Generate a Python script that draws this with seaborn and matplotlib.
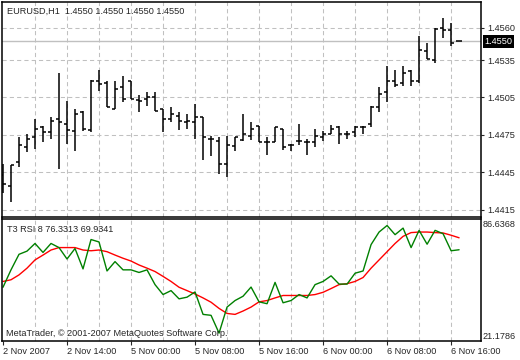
import numpy as np
import pandas as pd
import matplotlib
matplotlib.use("Agg")
import matplotlib.pyplot as plt
import matplotlib.transforms as mtransforms
import seaborn as sns

# EURUSD H1 bars (open / high / low / close)
bar_open = [1.4443, 1.4434, 1.4453, 1.4465, 1.4473, 1.4481, 1.4477, 1.4488, 1.4484, 1.4478,
            1.4493, 1.4479, 1.4518, 1.4517, 1.4496, 1.4513, 1.4518, 1.4503, 1.4504, 1.4505,
            1.4496, 1.4488, 1.4490, 1.4485, 1.4485, 1.4489, 1.4472, 1.4470, 1.4452, 1.4466,
            1.4471, 1.4474, 1.4482, 1.4469, 1.4469, 1.4480, 1.4467, 1.4470, 1.4469, 1.4469,
            1.4473, 1.4476, 1.4481, 1.4476, 1.4477, 1.4481, 1.4484, 1.4497, 1.4509, 1.4518,
            1.4517, 1.4526, 1.4518, 1.4542, 1.4535, 1.4561, 1.4559, 1.4550]
bar_high = [1.4452, 1.4451, 1.4473, 1.4476, 1.4488, 1.4482, 1.4489, 1.4525, 1.4502, 1.4496,
            1.4494, 1.4519, 1.4527, 1.4518, 1.4518, 1.4522, 1.4518, 1.4507, 1.4509, 1.4509,
            1.4496, 1.4497, 1.4493, 1.4492, 1.4500, 1.4489, 1.4474, 1.4473, 1.4474, 1.4473,
            1.4492, 1.4485, 1.4482, 1.4473, 1.4481, 1.4480, 1.4468, 1.4484, 1.4472, 1.4480,
            1.4478, 1.4483, 1.4482, 1.4478, 1.4482, 1.4482, 1.4498, 1.4513, 1.4530, 1.4527,
            1.4530, 1.4527, 1.4554, 1.4549, 1.4561, 1.4569, 1.4565, 1.4550]
bar_low = [1.4428, 1.4421, 1.4449, 1.4461, 1.4464, 1.4469, 1.4472, 1.4448, 1.4468, 1.4462,
           1.4478, 1.4477, 1.4510, 1.4497, 1.4496, 1.4501, 1.4504, 1.4493, 1.4498, 1.4494,
           1.4477, 1.4485, 1.4479, 1.4480, 1.4472, 1.4455, 1.4458, 1.4444, 1.4441, 1.4462,
           1.4470, 1.4471, 1.4469, 1.4459, 1.4469, 1.4463, 1.4462, 1.4467, 1.4459, 1.4465,
           1.4470, 1.4476, 1.4468, 1.4472, 1.4473, 1.4476, 1.4481, 1.4493, 1.4501, 1.4513,
           1.4514, 1.4514, 1.4517, 1.4536, 1.4533, 1.4553, 1.4546, 1.4550]
bar_close = [1.4436, 1.4451, 1.4467, 1.4472, 1.4480, 1.4477, 1.4486, 1.4485, 1.4479, 1.4492,
             1.4480, 1.4518, 1.4516, 1.4497, 1.4512, 1.4504, 1.4504, 1.4502, 1.4505, 1.4494,
             1.4488, 1.4492, 1.4486, 1.4486, 1.4489, 1.4473, 1.4472, 1.4452, 1.4467, 1.4473,
             1.4476, 1.4480, 1.4469, 1.4469, 1.4481, 1.4465, 1.4467, 1.4470, 1.4469, 1.4474,
             1.4476, 1.4480, 1.4476, 1.4476, 1.4481, 1.4481, 1.4497, 1.4508, 1.4518, 1.4515,
             1.4525, 1.4518, 1.4543, 1.4536, 1.4560, 1.4559, 1.4549, 1.4550]

# T3 RSI(8) window: green line and red signal
rsi_t3 = [49.9, 59.2, 67.5, 69.2, 73.3, 68.5, 73.3, 71.1, 65.0, 70.6,
          59.7, 75.4, 74.1, 58.6, 63.6, 59.2, 59.2, 57.8, 59.2, 51.3,
          46.0, 48.1, 43.7, 44.6, 47.4, 35.4, 34.9, 25.4, 39.3, 42.8,
          45.1, 50.0, 42.1, 41.1, 52.5, 41.6, 42.8, 46.0, 44.2, 51.3,
          53.0, 56.0, 51.6, 51.6, 57.4, 58.6, 72.7, 79.4, 82.9, 78.0,
          81.5, 71.1, 80.3, 72.9, 80.3, 78.5, 69.4, 69.9341]
rsi_signal = [53.0, 53.9, 56.5, 60.1, 64.5, 67.1, 69.8, 71.1, 71.1, 71.1,
              69.8, 69.4, 69.8, 68.9, 67.1, 65.4, 63.9, 61.8, 60.1, 58.3,
              55.7, 53.0, 49.9, 48.1, 46.3, 44.2, 41.9, 38.6, 35.9, 35.4,
              37.2, 39.3, 42.1, 42.8, 44.2, 45.5, 45.5, 45.5, 45.5, 46.0,
              47.2, 49.2, 51.3, 51.8, 53.0, 55.1, 60.1, 64.5, 68.9, 73.3,
              77.1, 79.1, 79.4, 79.4, 79.1, 78.9, 77.7, 76.3313]
rsi_min, rsi_max = 21.1786, 86.6368

price_ticks = [1.4415, 1.4445, 1.4475, 1.4505, 1.4535, 1.4561]
price_labels = ["1.4415", "1.4445", "1.4475", "1.4505", "1.4535", "1.4560"]
time_ticks = [0, 8, 16, 24, 32, 40, 48, 56]
time_labels = ["2 Nov 2007", "2 Nov 14:00", "5 Nov 00:00", "5 Nov 08:00",
               "5 Nov 16:00", "6 Nov 00:00", "6 Nov 08:00", "6 Nov 16:00"]

df = pd.DataFrame({"bar": np.arange(len(bar_close)), "open": bar_open, "high": bar_high,
                   "low": bar_low, "close": bar_close, "t3": rsi_t3, "signal": rsi_signal})

sns.set_style("white")
plt.rcParams["font.family"] = ["Liberation Sans", "DejaVu Sans"]
fs = 6.6
grid_kw = dict(color="#c0c0c0", linestyle=(0, (4, 3)), linewidth=0.75)

fig = plt.figure(figsize=(5.2, 3.6), dpi=100)
ax1 = fig.add_axes([2 / 520, 1 - 216.5 / 360, 478.7 / 520, 214.5 / 360])
ax2 = fig.add_axes([2 / 520, 1 - 341 / 360, 478.7 / 520, 122.5 / 360])

# price panel: OHLC bars
last = df["close"].iloc[-1]
ax1.axhline(last, color="#c0c0c0", lw=1, zorder=1)
ax1.vlines(df["bar"], df["low"], df["high"], color="black", lw=1.1, zorder=3)
ax1.hlines(df["open"], df["bar"] - 0.38, df["bar"], color="black", lw=1.1, zorder=3)
ax1.hlines(df["close"], df["bar"], df["bar"] + 0.38, color="black", lw=1.1, zorder=3)
ax1.set_xlim(-0.125, 59.7)
ax1.set_ylim(1.440955, 1.458156)
ax1.yaxis.tick_right()
ax1.set_yticks(price_ticks, price_labels)
ax1.set_xticks(np.arange(4, 57, 4))
ax1.tick_params(axis="x", length=0, labelbottom=False)
ax1.tick_params(axis="y", right=True, length=2, width=0.8, pad=2.5, labelsize=fs, direction="out")
ax1.grid(True, **grid_kw)
ax1.set_axisbelow(True)

trans = mtransforms.blended_transform_factory(ax1.transAxes, ax1.transData)
ax1.text(1.008, last, f"{last:.4f}", transform=trans, color="white", fontsize=fs,
         va="center", ha="left", clip_on=False,
         bbox=dict(boxstyle="square,pad=0.18", fc="black", ec="none"))

# indicator panel
sns.lineplot(data=df, x="bar", y="signal", color="#ff0000", lw=1, ax=ax2)
sns.lineplot(data=df, x="bar", y="t3", color="#008000", lw=1, ax=ax2)
ax2.set_xlim(-0.125, 59.7)
ax2.set_ylim(rsi_min, rsi_max)
ax2.set_xlabel("")
ax2.set_ylabel("")
ax2.set_yticks([])
ax2.set_xticks(time_ticks, time_labels)
ax2.set_xticks(np.arange(4, 57, 8), minor=True)
ax2.tick_params(axis="x", which="major", length=3, width=0.8, pad=1.5, labelsize=fs, direction="out", bottom=True)
ax2.tick_params(axis="x", which="minor", length=0)
plt.setp(ax2.get_xticklabels(), ha="left")
ax2.grid(True, axis="x", which="both", **grid_kw)
ax2.get_xgridlines()[0].set_visible(False)
ax2.set_axisbelow(True)
ax2.text(1.0035, 0.985, f"{rsi_max:.4f}", transform=ax2.transAxes, fontsize=fs, va="top", ha="left")
ax2.text(1.0035, 0.0, f"{rsi_min:.4f}", transform=ax2.transAxes, fontsize=fs, va="bottom", ha="left")

for ax in (ax1, ax2):
    for sp in ax.spines.values():
        sp.set_color("black")
        sp.set_linewidth(1.1)

fig.text(7 / 520, 1 - 11 / 360, "EURUSD,H1  " + " ".join([f"{last:.4f}"] * 4),
         fontsize=fs, va="center", ha="left")
fig.text(7 / 520, 1 - 229 / 360, f"T3 RSI 8 {rsi_signal[-1]:.4f} {rsi_t3[-1]:.4f}",
         fontsize=fs, va="center", ha="left")
fig.text(6 / 520, 1 - 334 / 360, "MetaTrader, © 2001-2007 MetaQuotes Software Corp.",
         fontsize=fs, va="center", ha="left", zorder=0)

fig.savefig("out.png", dpi=100, facecolor="white")
